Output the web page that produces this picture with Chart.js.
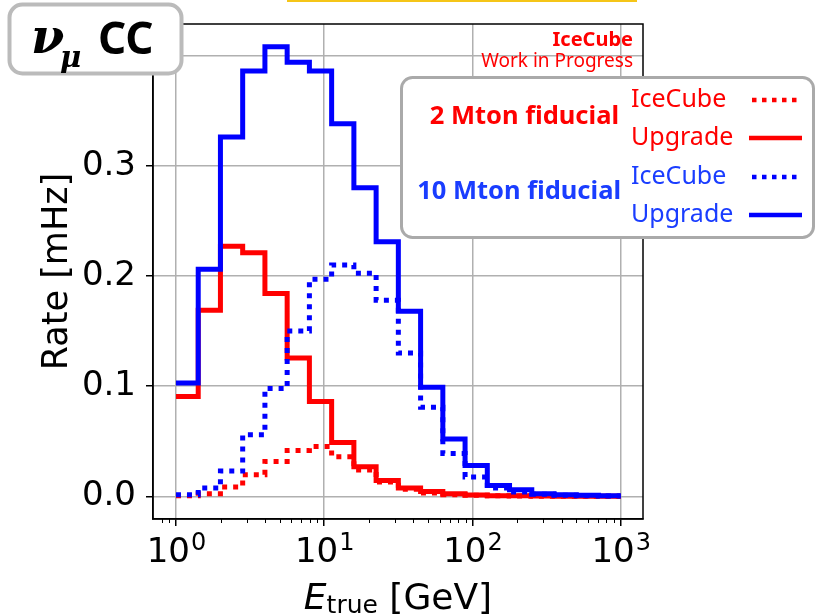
<!DOCTYPE html>
<html>
<head>
<meta charset="utf-8">
<script src="https://cdn.jsdelivr.net/npm/chart.js@4.4.1/dist/chart.umd.min.js"></script>
<style>
  html, body { margin: 0; padding: 0; background: #fff; }
  #wrap { width: 816px; height: 614px; }
</style>
</head>
<body>
<div id="wrap"><canvas id="rateChart" width="816" height="614"></canvas></div>
<script>
// Bin edges (GeV), 20 log bins from 1 to 1000
const binEdges = [1, 1.413, 1.995, 2.818, 3.981, 5.623, 7.943, 11.22, 15.85, 22.39, 31.62,
  44.67, 63.10, 89.13, 125.9, 177.8, 251.2, 354.8, 501.2, 707.9, 1000];

// Rates in mHz, one value per bin
const upgrade10 = [0.103, 0.206, 0.326, 0.386, 0.408, 0.394, 0.386, 0.338, 0.280, 0.231,
  0.168, 0.099, 0.052, 0.028, 0.010, 0.006, 0.0025, 0.0015, 0.001, 0.0005];
const icecube10 = [0.0015, 0.0076, 0.023, 0.056, 0.098, 0.150, 0.197, 0.210, 0.2025, 0.178,
  0.130, 0.081, 0.039, 0.0176, 0.0076, 0.004, 0.002, 0.001, 0.0006, 0.0003];
const upgrade2 = [0.0907, 0.169, 0.227, 0.221, 0.184, 0.1255, 0.086, 0.049, 0.027, 0.0145,
  0.0076, 0.0045, 0.0025, 0.0012, 0.0007, 0.0005, 0.0003, 0.0002, 0.0001, 0.0001];
const icecube2 = [0.0005, 0.0024, 0.0085, 0.0197, 0.0317, 0.0417, 0.0453, 0.036, 0.024, 0.013,
  0.0065, 0.003, 0.0015, 0.001, 0.0006, 0.0004, 0.0002, 0.0001, 0.0001, 0.0001];

const xMajorTicks = [1, 10, 100, 1000];
const xMinorTicks = [0.8, 0.9, 2, 3, 4, 5, 6, 7, 8, 9, 20, 30, 40, 50, 60, 70, 80, 90,
  200, 300, 400, 500, 600, 700, 800, 900];
const yTicks = [0, 0.1, 0.2, 0.3, 0.4];

const RED = '#ff0000';
const BLUE = '#0000ff';
const BLUE_TEXT = '#1a3dff';

// histogram steps: each bin value starts at its left edge, last value repeated at the right edge
const toSteps = (values) =>
  values.map((v, i) => ({ x: binEdges[i], y: v })).concat({ x: binEdges[binEdges.length - 1], y: values[values.length - 1] });

// drop the label overhang padding so the plot box sits where we want it
const noPad = (scale) => {
  scale.paddingTop = 0;
  scale.paddingBottom = 0;
  scale.paddingLeft = 0;
  scale.paddingRight = 0;
};

const extras = {
  id: 'extras',
  afterDraw(chart) {
    const { ctx, chartArea: a } = chart;
    const xs = chart.scales.x;
    ctx.save();

    // minor ticks on the log axis
    ctx.strokeStyle = '#000';
    ctx.lineWidth = 1;
    xMinorTicks.forEach((v) => {
      const px = Math.round(xs.getPixelForValue(v)) + 0.5;
      if (px < a.left || px > a.right) return;
      ctx.beginPath();
      ctx.moveTo(px, a.bottom);
      ctx.lineTo(px, a.bottom + 4);
      ctx.stroke();
    });

    // x tick labels 10^n with a real superscript
    ctx.fillStyle = '#000';
    ctx.textBaseline = 'alphabetic';
    ctx.textAlign = 'left';
    xMajorTicks.forEach((v) => {
      const px = xs.getPixelForValue(v);
      const exp = String(Math.round(Math.log10(v)));
      ctx.font = '34px "DejaVu Sans"';
      const wb = ctx.measureText('10').width;
      ctx.font = '24px "DejaVu Sans"';
      const we = ctx.measureText(exp).width;
      const left = px - (wb + we) / 2;
      ctx.font = '34px "DejaVu Sans"';
      ctx.fillText('10', left, 562);
      ctx.font = '24px "DejaVu Sans"';
      ctx.fillText(exp, left + wb + 1, 550);
    });

    // frame
    ctx.lineWidth = 1.5;
    ctx.strokeRect(a.left, a.top, a.right - a.left, a.bottom - a.top);

    // axis titles
    ctx.font = 'italic 36px "DejaVu Sans"';
    const wE = ctx.measureText('E').width;
    ctx.font = '25px "DejaVu Sans"';
    const wT = ctx.measureText('true').width;
    ctx.font = '36px "DejaVu Sans"';
    const wG = ctx.measureText(' [GeV]').width;
    const tx = (a.left + a.right) / 2 - (wE + wT + wG) / 2;
    ctx.font = 'italic 36px "DejaVu Sans"';
    ctx.fillText('E', tx, 608.5);
    ctx.font = '25px "DejaVu Sans"';
    ctx.fillText('true', tx + wE, 613);
    ctx.font = '36px "DejaVu Sans"';
    ctx.fillText(' [GeV]', tx + wE + wT, 608.5);

    ctx.save();
    ctx.translate(66.5, (a.top + a.bottom) / 2);
    ctx.rotate(-Math.PI / 2);
    ctx.textAlign = 'center';
    ctx.font = '35px "DejaVu Sans"';
    ctx.fillText('Rate [mHz]', 0, 0);
    ctx.restore();

    // yellow edge at the top
    ctx.fillStyle = '#f5c518';
    ctx.fillRect(287, 0, 350, 2);

    // experiment tag
    ctx.fillStyle = RED;
    ctx.textAlign = 'right';
    ctx.textBaseline = 'middle';
    ctx.font = 'bold 20px "Noto Sans"';
    ctx.fillText('IceCube', 633, 40);
    ctx.font = '19px "Noto Sans"';
    ctx.fillText('Work in Progress', 633, 62);

    // legend box
    ctx.beginPath();
    ctx.roundRect(401.5, 77.5, 412, 160, 11);
    ctx.fillStyle = '#fff';
    ctx.fill();
    ctx.lineWidth = 3;
    ctx.strokeStyle = '#aaaaaa';
    ctx.stroke();

    ctx.textAlign = 'right';
    ctx.font = 'bold 25.5px "Noto Sans"';
    ctx.fillStyle = RED;
    ctx.fillText('2 Mton fiducial', 619, 117);
    ctx.fillStyle = BLUE_TEXT;
    ctx.fillText('10 Mton fiducial', 621, 192);

    const rows = [
      { label: 'IceCube', text: RED, line: RED, dash: [4.5, 5.5], y: 100 },
      { label: 'Upgrade', text: RED, line: RED, dash: [], y: 138 },
      { label: 'IceCube', text: BLUE_TEXT, line: BLUE, dash: [4.5, 5.5], y: 177 },
      { label: 'Upgrade', text: BLUE_TEXT, line: BLUE, dash: [], y: 215 },
    ];
    ctx.textAlign = 'left';
    ctx.font = '25px "Noto Sans"';
    rows.forEach((r) => {
      ctx.fillStyle = r.text;
      ctx.fillText(r.label, 631, r.y);
      ctx.beginPath();
      ctx.setLineDash(r.dash);
      ctx.lineWidth = 4.5;
      ctx.strokeStyle = r.line;
      ctx.moveTo(r.dash.length ? 752 : 749, r.y);
      ctx.lineTo(r.dash.length ? 797 : 802, r.y);
      ctx.stroke();
    });
    ctx.setLineDash([]);

    // channel label box
    ctx.beginPath();
    ctx.roundRect(9.5, 4.5, 172, 69, 13);
    ctx.fillStyle = '#fff';
    ctx.fill();
    ctx.lineWidth = 4;
    ctx.strokeStyle = '#bbbbbb';
    ctx.stroke();

    ctx.fillStyle = '#000';
    ctx.textAlign = 'left';
    ctx.textBaseline = 'alphabetic';
    ctx.font = 'italic bold 48px "DejaVu Serif"';
    ctx.fillText('\u03bd', 31, 53);
    ctx.font = 'italic bold 29px "DejaVu Serif"';
    ctx.fillText('\u03bc', 60, 67);
    ctx.font = 'bold 44px "Noto Sans"';
    ctx.fillText('CC', 98, 54);

    ctx.restore();
  },
};

const lineStyle = { borderWidth: 5, pointRadius: 0, fill: false, stepped: true, borderCapStyle: 'butt', borderJoinStyle: 'miter' };

const ctx = document.getElementById('rateChart').getContext('2d');

new Chart(ctx, {
  type: 'line',
  data: {
    datasets: [
      { ...lineStyle, label: '10 Mton Upgrade', data: toSteps(upgrade10), borderColor: BLUE, order: 0 },
      { ...lineStyle, label: '10 Mton IceCube', data: toSteps(icecube10), borderColor: BLUE, borderDash: [5, 6], order: 1 },
      { ...lineStyle, label: '2 Mton Upgrade', data: toSteps(upgrade2), borderColor: RED, order: 2 },
      { ...lineStyle, label: '2 Mton IceCube', data: toSteps(icecube2), borderColor: RED, borderDash: [5, 6], order: 3 },
    ],
  },
  options: {
    responsive: false,
    animation: false,
    devicePixelRatio: 1,
    layout: { padding: { left: 0, top: 24, right: 173, bottom: 0 } },
    plugins: {
      legend: { display: false },
      tooltip: { enabled: false },
    },
    scales: {
      x: {
        type: 'logarithmic',
        min: 0.708,
        max: 1413,
        afterBuildTicks: (scale) => { scale.ticks = xMajorTicks.map((v) => ({ value: v })); },
        afterFit: (scale) => { scale.height = 95; noPad(scale); },
        ticks: {
          autoSkip: false,
          maxRotation: 0,
          color: '#000',
          font: { family: 'DejaVu Sans', size: 34 },
          callback: () => '',
        },
        grid: { color: '#b0b0b0', lineWidth: 1.5, tickColor: '#000', tickLength: 7, tickWidth: 1.5 },
        border: { color: '#000', width: 1.5 },
      },
      y: {
        min: -0.0205,
        max: 0.4286,
        afterBuildTicks: (scale) => { scale.ticks = yTicks.map((v) => ({ value: v })); },
        afterFit: (scale) => { scale.width = 153; noPad(scale); },
        ticks: {
          color: '#000',
          padding: 10,
          font: { family: 'DejaVu Sans', size: 34 },
          callback: (v) => (v > 0.35 ? '' : v.toFixed(1)),
        },
        grid: { color: '#b0b0b0', lineWidth: 1.5, tickColor: '#000', tickLength: 7, tickWidth: 1.5 },
        border: { color: '#000', width: 1.5 },
      },
    },
  },
  plugins: [extras],
});
</script>
</body>
</html>
